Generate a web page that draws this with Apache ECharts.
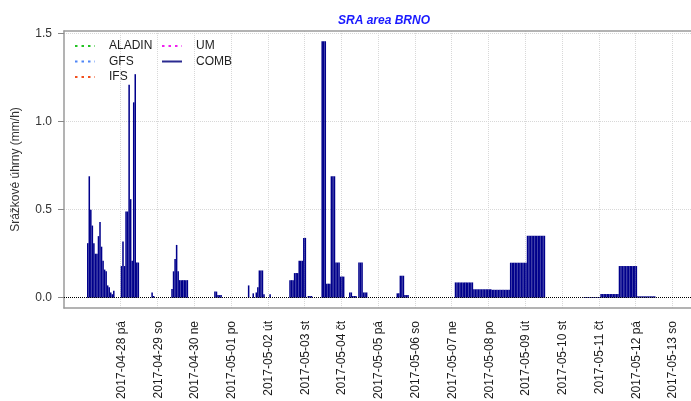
<!DOCTYPE html>
<html>
<head>
<meta charset="utf-8">
<script src="https://cdn.jsdelivr.net/npm/echarts@6/dist/echarts.min.js"></script>
<style>
html,body{margin:0;padding:0;background:#fff}
#box{width:691px;height:401px}
</style>
</head>
<body>
<div id="box"></div>
<script>
// COMB hourly rain, written as runs of equal value (start 'MM-DD HH', hours, mm/h)
var runStart = ['04-27 02','04-27 03','04-27 04','04-27 05','04-27 06','04-27 07','04-27 09','04-27 10','04-27 11','04-27 12',
    '04-27 13','04-27 14','04-27 15','04-27 16','04-27 17','04-27 18','04-27 19',
    '04-28 00','04-28 01','04-28 02','04-28 03','04-28 05','04-28 06','04-28 07','04-28 08','04-28 09','04-28 10',
    '04-28 20','04-28 21',
    '04-29 09','04-29 10','04-29 11','04-29 12','04-29 13','04-29 14',
    '04-30 13','04-30 15',
    '05-01 11','05-01 14','05-01 16','05-01 17','05-01 18','05-01 21','05-02 01',
    '05-02 14','05-02 17','05-02 20','05-02 23','05-03 02',
    '05-03 11','05-03 14','05-03 17','05-03 20','05-03 23',
    '05-04 05','05-04 07','05-04 11','05-04 14',
    '05-05 12','05-05 14','05-05 17',
    '05-07 02','05-07 14','05-08 02','05-08 14','05-09 01',
    '05-10 14','05-11 01','05-11 13','05-12 01'];
var runHours = [1,1,1,1,1,2,1,1,1,1,
    1,1,1,1,1,1,1,
    1,1,1,2,1,1,1,1,1,2,
    1,1,
    1,1,1,1,1,6,
    2,3,
    1,1,1,1,3,1,1,
    3,3,3,2,3,
    3,3,3,3,3,
    2,3,3,3,
    2,3,3,
    12,12,12,11,12,
    11,12,12,12];
var runMm = [0.31,0.69,0.50,0.41,0.31,0.25,0.35,0.43,0.29,0.21,
    0.16,0.15,0.07,0.06,0.03,0.02,0.04,
    0.18,0.32,0.18,0.49,1.21,0.56,0.21,1.11,1.27,0.20,
    0.03,0.01,
    0.05,0.15,0.22,0.30,0.15,0.10,
    0.035,0.015,
    0.07,0.025,0.03,0.06,0.155,0.02,0.02,
    0.10,0.14,0.21,0.34,0.01,
    1.457,0.08,0.69,0.20,0.12,
    0.03,0.01,0.20,0.03,
    0.025,0.125,0.015,
    0.087,0.048,0.045,0.199,0.352,
    0.004,0.021,0.18,0.008];

var models = ['ALADIN','GFS','IFS','UM'];
var modelColors = ['#22c322','#4f86f7','#f2501e','#f020f0'];
var combColor = '#00008b';
var yTicks = [0, 0.5, 1, 1.5];
var dayNames = ['ne','po','út','st','čt','pá','so'];
var firstLabelDay = '2017-04-28';
var hourCount = 420;   // from 2017-04-26 11:00, runs past the right edge

var mychart = echarts.init(document.getElementById('box'));

function pad(n){ return (n < 10 ? '0' : '') + n; }
var t0 = Date.UTC(2017, 3, 26, 11);
var hours = [];
for (var i = 0; i < hourCount; i++) {
    var d = new Date(t0 + i * 3600000);
    hours.push(d.getUTCFullYear() + '-' + pad(d.getUTCMonth() + 1) + '-' + pad(d.getUTCDate()) + ' ' + pad(d.getUTCHours()));
}
var comb = hours.map(function(){ return 0; });
runStart.forEach(function(s, j){
    var idx = hours.indexOf('2017-' + s);
    for (var h = 0; h < runHours[j]; h++) comb[idx + h] = runMm[j];
});

function isDay(index, value){
    return value.slice(11) === '00' && value.slice(0, 10) >= firstLabelDay;
}

var series = models.map(function(m, i){
    return {
        name: m, type: 'line', data: [], symbol: 'none',
        itemStyle: {color: modelColors[i]},
        lineStyle: {color: modelColors[i], width: 2.5, type: [2.5, 4]}
    };
});
series.push({
    name: 'COMB', type: 'line', data: [], symbol: 'none',
    itemStyle: {color: '#2a2a90'},
    lineStyle: {color: '#2a2a90', width: 2}
});
series.push({
    name: 'COMB', type: 'bar', data: comb,
    barCategoryGap: '0%',
    itemStyle: {color: combColor},
    markLine: {
        silent: true, symbol: ['none', 'none'],
        label: {show: false},
        lineStyle: {color: '#000', type: 'dotted', width: 1},
        data: [{yAxis: 0}]
    }
});

var legendBase = {
    orient: 'vertical', top: 35, itemWidth: 20, itemHeight: 14, itemGap: 3.5,
    selectedMode: false,
    itemStyle: {opacity: 0},
    textStyle: {fontSize: 12, color: '#222', padding: [0, 0, 0, 9]}
};

var boxLine = {show: true, onZero: false, lineStyle: {color: '#9a9a9a', width: 1.5}};

var option = {
    animation: false,
    textStyle: {fontFamily: 'Liberation Sans, Arial, sans-serif'},
    title: {
        text: 'SRA area BRNO', left: 333, top: 10,
        textStyle: {fontSize: 12, fontStyle: 'italic', fontWeight: 'bold', color: '#1a1aff'}
    },
    legend: [
        Object.assign({}, legendBase, {left: 69, data: models.slice(0, 3)}),
        Object.assign({}, legendBase, {left: 156, data: ['UM', 'COMB']})
    ],
    grid: {
        left: 64, width: 643.6, top: 31, bottom: 93,
        outerBoundsMode: 'none', show: false
    },
    xAxis: [{
        type: 'category', data: hours, position: 'bottom',
        axisLine: boxLine,
        axisTick: {interval: isDay, alignWithLabel: true, length: 6, lineStyle: {color: '#888'}},
        axisLabel: {
            interval: isDay, rotate: 90, margin: 13, fontSize: 12, color: '#1a1a1a',
            formatter: function(v){
                var p = v.slice(0, 10).split('-');
                var wd = new Date(Date.UTC(+p[0], +p[1] - 1, +p[2])).getUTCDay();
                return v.slice(0, 10) + ' ' + dayNames[wd];
            }
        },
        splitLine: {show: true, interval: isDay, lineStyle: {color: '#d8d8d8', type: 'dotted'}}
    }, {
        type: 'category', data: hours, position: 'top',
        axisLine: boxLine,
        axisTick: {show: false}, axisLabel: {show: false}, splitLine: {show: false}
    }],
    yAxis: {
        type: 'value', min: -0.0583, max: 1.5153, splitNumber: 3,
        name: 'Srážkové úhrny (mm/h)', nameLocation: 'middle', nameGap: 42,
        nameTextStyle: {fontSize: 12, color: '#333'},
        axisLine: boxLine,
        axisTick: {show: true, customValues: yTicks, length: 6, lineStyle: {color: '#888'}},
        axisLabel: {customValues: yTicks, margin: 12, fontSize: 12, color: '#333',
            formatter: function(v){ return v.toFixed(1); }},
        splitLine: {show: true, lineStyle: {color: '#d8d8d8', type: 'dotted'}}
    },
    series: series
};
mychart.setOption(option);
</script>
</body>
</html>
